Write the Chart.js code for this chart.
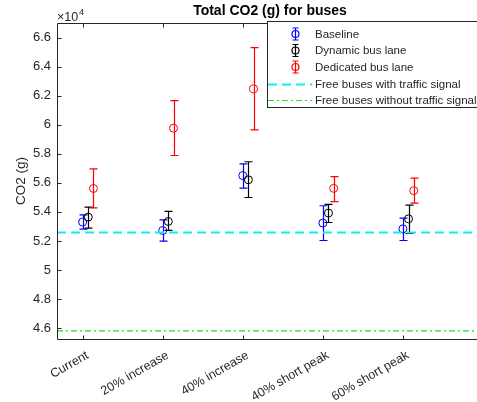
<!DOCTYPE html>
<html><head><meta charset="utf-8">
<script src="https://cdn.jsdelivr.net/npm/chart.js@4/dist/chart.umd.min.js"></script>
<style>html,body{margin:0;padding:0;overflow:hidden;background:#fff;width:477px;height:402px}canvas{display:block}</style>
</head><body>
<canvas id="c" width="490" height="402"></canvas>
<script>
const categories = ['Current', '20% increase', '40% increase', '40% short peak', '60% short peak'];

const baselineMean = [53300, 52720, 56500, 53230, 52830];
const baselineLow  = [52810, 51990, 55630, 52030, 52030];
const baselineHigh = [53800, 53450, 57310, 54420, 53570];

const dynamicMean = [53640, 53340, 56210, 53920, 53520];
const dynamicLow  = [52880, 52720, 54990, 53270, 52510];
const dynamicHigh = [54330, 54030, 57450, 54510, 54460];

const dedicatedMean = [55610, 59760, 62470, 55620, 55460];
const dedicatedLow  = [54270, 57880, 59650, 54710, 54600];
const dedicatedHigh = [56960, 61660, 65310, 56430, 56320];

const freeWithSignal = 52580;
const freeWithoutSignal = 45810;

const yTicks = [46000, 48000, 50000, 52000, 54000, 56000, 58000, 60000, 62000, 64000, 66000];
const yTickLabels = ['4.6', '4.8', '5', '5.2', '5.4', '5.6', '5.8', '6', '6.2', '6.4', '6.6'];

const seriesNames = ['Baseline', 'Dynamic bus lane', 'Dedicated bus lane'];
const lineNames = ['Free buses with traffic signal', 'Free buses without traffic signal'];

// layout / style constants
const X_MIN = 0.68, X_MAX = 6.0, Y_MIN = 45250, Y_MAX = 67000;
const OFFSETS = [0, 0.07, 0.135];
const COLORS = ['#0000ff', '#000000', '#ff0000'];
const AXIS = '#262626';
const FONT = "'Liberation Sans', Arial, sans-serif";

const series = [
  {mean: baselineMean, low: baselineLow, high: baselineHigh},
  {mean: dynamicMean, low: dynamicLow, high: dynamicHigh},
  {mean: dedicatedMean, low: dedicatedLow, high: dedicatedHigh}
];

const datasets = series.map((s, k) => ({
  type: 'scatter',
  label: seriesNames[k],
  data: s.mean.map((v, i) => ({x: i + 1 + OFFSETS[k], y: v})),
  pointStyle: 'circle',
  pointRadius: 4,
  pointHoverRadius: 4,
  borderColor: COLORS[k],
  backgroundColor: 'rgba(0,0,0,0)',
  pointBorderWidth: 1,
  showLine: false,
  order: 3 - k
}));
datasets.push({
  type: 'line', label: lineNames[0],
  data: [{x: X_MIN, y: freeWithSignal}, {x: X_MAX, y: freeWithSignal}],
  borderColor: '#11eeee', borderWidth: 2, borderDash: [9, 5], pointRadius: 0, fill: false
});
datasets.push({
  type: 'line', label: lineNames[1],
  data: [{x: X_MIN, y: freeWithoutSignal}, {x: X_MAX, y: freeWithoutSignal}],
  borderColor: '#22dd22', borderWidth: 1.2, borderDash: [6, 3, 2, 3], pointRadius: 0, fill: false
});

const errorBars = {
  id: 'errorBars',
  beforeDatasetsDraw(chart) {
    const {ctx, scales: {x, y}} = chart;
    ctx.save();
    ctx.lineWidth = 1.2;
    series.forEach((s, k) => {
      ctx.strokeStyle = COLORS[k];
      s.mean.forEach((m, i) => {
        const px = Math.round(x.getPixelForValue(i + 1 + OFFSETS[k])) + 0.5;
        const pl = y.getPixelForValue(s.low[i]);
        const ph = y.getPixelForValue(s.high[i]);
        ctx.beginPath();
        ctx.moveTo(px, pl); ctx.lineTo(px, ph);
        ctx.moveTo(px - 4, pl); ctx.lineTo(px + 4, pl);
        ctx.moveTo(px - 4, ph); ctx.lineTo(px + 4, ph);
        ctx.stroke();
      });
    });
    ctx.restore();
  }
};

const decorations = {
  id: 'decorations',
  afterDraw(chart) {
    const {ctx, chartArea: a, scales: {x, y}} = chart;
    ctx.save();
    // box
    ctx.strokeStyle = AXIS;
    ctx.lineWidth = 1;
    const L = Math.round(a.left) + 0.5, R = Math.round(a.right) + 0.5;
    const T = Math.round(a.top) + 0.5, B = Math.round(a.bottom) + 0.5;
    ctx.beginPath();
    ctx.moveTo(L, T); ctx.lineTo(R, T); ctx.lineTo(R, B); ctx.lineTo(L, B); ctx.closePath();
    ctx.stroke();
    // inward ticks
    ctx.beginPath();
    yTicks.forEach(v => {
      const py = Math.round(y.getPixelForValue(v)) + 0.5;
      ctx.moveTo(L, py); ctx.lineTo(L + 4, py);
      ctx.moveTo(R, py); ctx.lineTo(R - 4, py);
    });
    categories.forEach((c, i) => {
      const px = Math.round(x.getPixelForValue(i + 1)) + 0.5;
      ctx.moveTo(px, B); ctx.lineTo(px, B - 4);
      ctx.moveTo(px, T); ctx.lineTo(px, T + 4);
    });
    ctx.stroke();

    // title
    ctx.fillStyle = '#000';
    ctx.font = 'bold 14px ' + FONT;
    ctx.textAlign = 'center';
    ctx.textBaseline = 'middle';
    ctx.fillText('Total CO2 (g) for buses', (a.left + a.right) / 2, 11);

    // exponent
    ctx.fillStyle = AXIS;
    ctx.font = '12.5px ' + FONT;
    ctx.textAlign = 'left';
    ctx.textBaseline = 'alphabetic';
    ctx.fillText('\u00d710', 57, 20.5);
    ctx.font = '9px ' + FONT;
    ctx.fillText('4', 79, 15);

    // legend
    const lx = 267.5, ly = 21.5, lw = 230, lh = 86;
    ctx.fillStyle = '#fff';
    ctx.fillRect(lx, ly, lw, lh);
    ctx.strokeStyle = AXIS;
    ctx.lineWidth = 1;
    ctx.strokeRect(lx, ly, lw, lh);
    const rows = [34, 50.5, 67, 83.5, 100];
    ctx.font = '11.5px ' + FONT;
    ctx.textBaseline = 'middle';
    ctx.textAlign = 'left';
    seriesNames.forEach((n, k) => {
      const cy = rows[k], cx = 295.5;
      ctx.strokeStyle = COLORS[k];
      ctx.lineWidth = 1.2;
      ctx.beginPath();
      ctx.moveTo(cx, cy - 6); ctx.lineTo(cx, cy + 6);
      ctx.moveTo(cx - 3, cy - 6); ctx.lineTo(cx + 3, cy - 6);
      ctx.moveTo(cx - 3, cy + 6); ctx.lineTo(cx + 3, cy + 6);
      ctx.stroke();
      ctx.beginPath();
      ctx.arc(cx, cy, 3.5, 0, Math.PI * 2);
      ctx.stroke();
      ctx.fillStyle = AXIS;
      ctx.fillText(n, 315, cy + 0.5);
    });
    [datasets[3], datasets[4]].forEach((d, j) => {
      const cy = Math.round(rows[3 + j]) + 0.5;
      ctx.strokeStyle = d.borderColor;
      ctx.lineWidth = d.borderWidth;
      ctx.setLineDash(d.borderDash);
      ctx.beginPath();
      ctx.moveTo(268, cy); ctx.lineTo(312, cy);
      ctx.stroke();
      ctx.setLineDash([]);
      ctx.fillStyle = AXIS;
      ctx.fillText(d.label, 315, cy + 0.5);
    });
    ctx.restore();
  }
};

new Chart(document.getElementById('c'), {
  data: {datasets},
  options: {
    responsive: false,
    animation: false,
    events: [],
    layout: {padding: {top: 23, right: 7, left: 0, bottom: 0}},
    plugins: {legend: {display: false}, tooltip: {enabled: false}, title: {display: false}},
    scales: {
      x: {
        type: 'linear', min: X_MIN, max: X_MAX,
        grid: {display: false, drawTicks: false}, border: {display: false},
        afterBuildTicks: s => { s.ticks = categories.map((c, i) => ({value: i + 1})); },
        afterFit: s => { s.height = 63; },
        ticks: {
          autoSkip: false, minRotation: 30, maxRotation: 30, padding: 9, labelOffset: 5,
          color: AXIS, font: {family: FONT, size: 12.5},
          callback: (v, i) => categories[i]
        }
      },
      y: {
        type: 'linear', min: Y_MIN, max: Y_MAX,
        grid: {display: false, drawTicks: false}, border: {display: false},
        afterBuildTicks: s => { s.ticks = yTicks.map(v => ({value: v})); },
        afterFit: s => { s.width = 57; },
        title: {display: true, text: 'CO2 (g)', color: AXIS, font: {family: FONT, size: 13.5}, padding: {top: 13, bottom: 0}},
        ticks: {
          padding: 6, color: AXIS, font: {family: FONT, size: 13},
          callback: (v, i) => yTickLabels[i]
        }
      }
    }
  },
  plugins: [errorBars, decorations]
});
</script>
</body></html>
